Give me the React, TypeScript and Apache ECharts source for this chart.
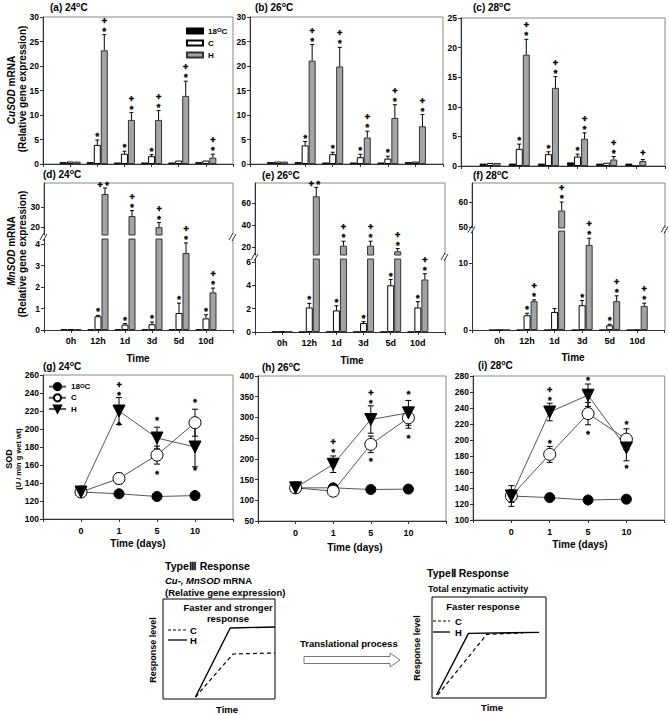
import React, { useEffect, useRef } from "react";
import * as echarts from "echarts";

const FONT = '"Liberation Sans", Arial, Helvetica, sans-serif';

// ---------------- data ----------------
const barCats = ["0h", "12h", "1d", "3d", "5d", "10d"];
const barAxisCats = ["", ...barCats, " "];

// (a) CuSOD 24 C
const a18 = [0.4, 0.4, 0.3, 0.3, 0.3, 0.4];
const aC = [0.5, 3.9, 2.1, 1.6, 0.7, 0.7];
const aCerr = [0, 1.0, 0.5, 0.3, 0, 0];
const aH = [0.5, 23.2, 9.0, 9.0, 13.9, 1.3];
const aHerr = [0, 3.2, 1.5, 1.9, 3.0, 0.7];
const aCsig = ["", "*", "*", "*", "", ""];
const aHsig = ["", "+*", "+*", "+*", "+*", "+*"];

// (b) CuSOD 26 C
const b18 = [0.4, 0.4, 0.3, 0.3, 0.3, 0.4];
const bC = [0.5, 3.8, 2.0, 1.4, 1.1, 0.5];
const bCerr = [0, 0.8, 0.4, 0.6, 0.5, 0];
const bH = [0.5, 21.1, 19.9, 5.4, 9.4, 7.7];
const bHerr = [0, 3.3, 3.9, 1.3, 2.7, 2.4];
const bCsig = ["", "*", "*", "*", "*", ""];
const bHsig = ["", "+*", "+*", "+*", "+*", "+*"];

// (c) CuSOD 28 C
const c18 = [0.4, 0.4, 0.4, 0.6, 0.4, 0.4];
const cC = [0.5, 2.9, 2.0, 1.6, 0.55, 0];
const cCerr = [0, 0.8, 0.4, 0.4, 0, 0];
const cH = [0.5, 18.8, 13.2, 4.6, 1.1, 0.85];
const cHerr = [0, 2.6, 1.9, 1.0, 0.5, 0.25];
const cCsig = ["", "*", "*", "*", "", ""];
const cHsig = ["", "+*", "+*", "+*", "+*", "+"];

// (d) MnSOD 24 C
const d18 = [0.03, 0.03, 0.03, 0.03, 0.03, 0.03];
const dC = [0.03, 0.64, 0.25, 0.27, 0.79, 0.54];
const dCerr = [0, 0.04, 0.05, 0.1, 0.46, 0.17];
const dH = [0.03, 36.5, 25.5, 19.9, 3.58, 1.75];
const dHerr = [0, 3.0, 2.7, 2.3, 0.47, 0.2];
const dCsig = ["", "*", "*", "*", "*", "*"];
const dHsig = ["", "+*h", "+*", "+*", "+*", "+*"];

// (e) MnSOD 26 C
const e18 = [0.03, 0.03, 0.03, 0.03, 0.03, 0.03];
const eC = [0.03, 2.1, 1.85, 0.77, 4.0, 2.1];
const eCerr = [0, 0.35, 0.4, 0.12, 0.5, 0.5];
const eH = [0.03, 66, 21.2, 21.2, 16, 4.5];
const eHerr = [0, 8, 4, 4, 2.5, 0.5];
const eCsig = ["", "*", "*", "*", "*", "*"];
const eHsig = ["", "+*h", "+*", "+*", "+*", "+*"];

// (f) MnSOD 28 C
const f18 = [0, 0, 0, 0, 0, 0];
const fC = [0, 2.2, 2.7, 3.7, 0.7, 0];
const fCerr = [0, 0.3, 0.5, 0.7, 0.15, 0];
const fH = [0, 4.3, 56.6, 12.7, 4.3, 3.6];
const fHerr = [0, 0.2, 3.4, 1.0, 0.8, 0.4];
const fCsig = ["", "*", "", "*", "*", ""];
const fHsig = ["", "+*", "+*", "+*", "+*", "+*"];

// SOD activity
const dayCats = ["0", "1", "5", "10"];
const dayAxisCats = ["", ...dayCats, " "];

const g18 = [130, 128, 125, 126];
const gC = [130, 145, 171, 207];
const gCerr = [3, 6, 10, 15];
const gH = [130, 220, 190, 180];
const gHerr = [3, 15, 12, 22];
// [day, value at which the star sits, code]
const gSig: [string, number, string][] = [
  ["1", 240, "+*"], ["1", 207, "*"],
  ["5", 212, "*"], ["5", 152, "*"], ["10", 232, "*"], ["10", 157, "*"],
];

const h18 = [130, 130, 126, 127];
const hC = [130, 122, 235, 299];
const hCerr = [8, 12, 20, 25];
const hH = [130, 187, 295, 311];
const hHerr = [12, 20, 33, 30];
const hSig: [string, number, string][] = [
  ["1", 221, "+*"], ["5", 340, "+*"],
  ["5", 201, "*"], ["10", 361, "*"], ["10", 255, "*"],
];

const i18 = [130, 128, 125, 126];
const iC = [130, 182, 233, 201];
const iCerr = [13, 10, 14, 13];
const iH = [130, 235, 256, 190];
const iHerr = [8, 11, 14, 16];
const iSig: [string, number, string][] = [
  ["1", 252, "+*"], ["1", 199, "*"],
  ["5", 277, "*"], ["5", 210, "*"], ["10", 222, "*"], ["10", 167, "*"],
];

// schematic curves (normalized time, response level)
const typeIII_H = [[0.29, 0.02], [0.6, 0.71], [1.0, 0.72]];
const typeIII_C = [[0.29, 0.02], [0.625, 0.45], [1.0, 0.46]];
const typeII_H = [[0.04, 0.03], [0.32, 0.64], [0.94, 0.65]];
const typeII_C = [[0.05, 0.03], [0.48, 0.63], [0.8, 0.645]];

// ---------------- option ----------------
const BW = 7;

function richFor(fs: number) {
  return {
    s: { fontSize: Math.round(fs * 0.7), fontWeight: "bold", fontFamily: FONT, verticalAlign: "top", lineHeight: fs * 0.8 },
    i: { fontSize: fs, fontWeight: "bold", fontStyle: "italic", fontFamily: FONT },
  };
}

function T(x: number, y: number, text: string, o: any = {}) {
  const fs = o.fs || 10;
  return {
    type: "text", x, y, rotation: o.rot || 0, silent: true, z: 50,
    style: {
      text, fill: "#000", fontFamily: FONT, fontWeight: o.fw || "bold", fontStyle: o.it ? "italic" : "normal",
      fontSize: fs, align: o.align || "left", verticalAlign: "middle", lineHeight: fs * 1.2, rich: richFor(fs),
    },
  };
}

const SIG_FS = 9;
const SIG_LH = 10;
const SIG_STYLE = {
  fill: "#000", stroke: "#000", lineWidth: 0.45, fontFamily: FONT, fontWeight: "bold",
  fontSize: SIG_FS, align: "center", verticalAlign: "middle",
};

// yTop: pixel y of the top of the bar/error bar; star centre lies 6px above it
function sigEls(x: number, yTop: number, code: string) {
  const starCy = yTop - 6;
  const starShift = SIG_FS * 0.23;
  if (code === "*") return [{ type: "text", x, y: starCy + starShift, style: { ...SIG_STYLE, text: "*" } }];
  if (code === "+*") return [{ type: "text", x, y: starCy + starShift - SIG_LH / 2, style: { ...SIG_STYLE, text: "+\n*", lineHeight: SIG_LH } }];
  if (code === "+") return [{ type: "text", x, y: yTop - 6, style: { ...SIG_STYLE, text: "+" } }];
  if (code === "+*h") return [{ type: "text", x: x - 2, y: yTop - 3, style: { ...SIG_STYLE, text: "+ *" } }];
  return [];
}

function buildOption() {
  const grid: any[] = [];
  const xAxis: any[] = [];
  const yAxis: any[] = [];
  const series: any[] = [];
  const graphic: any[] = [];

  const tickLabel = { fontFamily: FONT, fontWeight: "bold", fontSize: 8.5, color: "#000", margin: 4 };
  const axisLineStyle = { color: "#333", width: 1 };

  const barErr = (gi: number, vals: number[], errs: number[], sigs: string[], offset: number, lo: number, hi: number) => ({
    type: "custom", xAxisIndex: gi, yAxisIndex: gi, silent: true, z: 4,
    data: vals.map((v, i) => [barCats[i], v, errs[i], i]),
    renderItem: (_p: any, api: any) => {
      const i = api.value(3);
      const v = api.value(1);
      const e = api.value(2);
      if (!(v > lo && v <= hi)) return null;
      const c = api.value(0);
      const p0 = api.coord([c, v]);
      const p1 = api.coord([c, v + e]);
      const x = p0[0] + offset;
      const ch: any[] = [];
      if (e > 0) {
        ch.push({ type: "line", shape: { x1: x, y1: p0[1], x2: x, y2: p1[1] }, style: { stroke: "#000", lineWidth: 1 } });
        ch.push({ type: "line", shape: { x1: x - 2, y1: p1[1], x2: x + 2, y2: p1[1] }, style: { stroke: "#000", lineWidth: 1 } });
      }
      ch.push(...sigEls(x, Math.min(p0[1], p1[1]), sigs[i]));
      return { type: "group", children: ch };
    },
  });

  const addBarGrid = (o: any) => {
    const gi = grid.length;
    grid.push({ left: o.left, top: o.top, width: o.width, height: o.height, show: !!o.frame, borderColor: "#888", borderWidth: 1 });
    xAxis.push({
      gridIndex: gi, type: "category", data: barAxisCats, boundaryGap: false, show: o.xShow,
      axisLine: { show: true, lineStyle: axisLineStyle },
      axisTick: { show: true, length: 3, interval: 0, lineStyle: axisLineStyle },
      axisLabel: { show: !!o.xLabels, interval: 0, fontFamily: FONT, fontWeight: "bold", fontSize: 9, color: "#000", margin: 6 },
      splitLine: { show: false },
    });
    const ya: any = {
      gridIndex: gi, type: "value", min: o.min, max: o.max,
      axisLine: { show: true, lineStyle: axisLineStyle },
      axisTick: { show: true, length: 3, lineStyle: axisLineStyle },
      axisLabel: { ...tickLabel },
      splitLine: { show: false },
    };
    if (o.interval) ya.interval = o.interval;
    if (o.ticks) { ya.axisTick.customValues = o.ticks; ya.axisLabel.customValues = o.ticks; }
    yAxis.push(ya);
    const d = o.d;
    const mk = (name: string, vals: number[], style: any) => ({
      type: "bar", name, xAxisIndex: gi, yAxisIndex: gi, silent: true, clip: true,
      data: vals.map((v, i) => [barCats[i], v]), barWidth: BW, barGap: "0%", itemStyle: style,
    });
    series.push(mk("b18", d.v18, { color: "#000", borderColor: "#000", borderWidth: 0.8 }));
    series.push(mk("bC", d.vC, { color: "#fff", borderColor: "#000", borderWidth: 1 }));
    series.push(mk("bH", d.vH, { color: "#a3a3a3", borderColor: "#333", borderWidth: 1 }));
    const lo = o.lo ?? -Infinity, hi = o.hi ?? Infinity;
    series.push(barErr(gi, d.vC, d.eC, d.sC, 0, lo, hi));
    series.push(barErr(gi, d.vH, d.eH, d.sH, BW, lo, hi));
  };

  const setA = { v18: a18, vC: aC, eC: aCerr, vH: aH, eH: aHerr, sC: aCsig, sH: aHsig };
  const setB = { v18: b18, vC: bC, eC: bCerr, vH: bH, eH: bHerr, sC: bCsig, sH: bHsig };
  const setC = { v18: c18, vC: cC, eC: cCerr, vH: cH, eH: cHerr, sC: cCsig, sH: cHsig };
  const setD = { v18: d18, vC: dC, eC: dCerr, vH: dH, eH: dHerr, sC: dCsig, sH: dHsig };
  const setE = { v18: e18, vC: eC, eC: eCerr, vH: eH, eH: eHerr, sC: eCsig, sH: eHsig };
  const setF = { v18: f18, vC: fC, eC: fCerr, vH: fH, eH: fHerr, sC: fCsig, sH: fHsig };

  // Row 1
  addBarGrid({ left: 43, top: 17, width: 190, height: 147, min: 0, max: 30, interval: 5, frame: true, xShow: true, d: setA });
  addBarGrid({ left: 250, top: 17, width: 193, height: 147, min: 0, max: 30, interval: 5, frame: true, xShow: true, d: setB });
  addBarGrid({ left: 461, top: 18, width: 204, height: 148, min: 0, max: 25, interval: 5, frame: true, xShow: true, d: setC });

  // Row 2 (broken axes): lower + upper grids
  const dLowMax = 91 / 21.5;
  addBarGrid({ left: 44, top: 239, width: 189, height: 91, min: 0, max: dLowMax, ticks: [0, 1, 2, 3, 4], xShow: true, xLabels: true, d: setD, hi: dLowMax });
  addBarGrid({ left: 44, top: 183, width: 189, height: 52, min: 16, max: 42, ticks: [20, 30], xShow: false, d: setD, lo: dLowMax });
  const eLowMax = 73 / 11.67;
  addBarGrid({ left: 255, top: 259, width: 190, height: 73, min: 0, max: eLowMax, ticks: [0, 2, 4, 6], xShow: true, xLabels: true, d: setE, hi: eLowMax });
  addBarGrid({ left: 255, top: 183, width: 190, height: 72, min: 12.7, max: 78, ticks: [20, 40, 60], xShow: false, d: setE, lo: eLowMax });
  const fLowMax = 99 / 6.7;
  addBarGrid({ left: 472, top: 231, width: 193, height: 99, min: 0, max: fLowMax, ticks: [0, 10], xShow: true, xLabels: true, d: setF, hi: fLowMax });
  addBarGrid({ left: 472, top: 183, width: 193, height: 45, min: 49.6, max: 67.6, ticks: [50, 60], xShow: false, d: setF, lo: fLowMax });

  // Row 3 line panels
  const addLineGrid = (o: any) => {
    const gi = grid.length;
    grid.push({ left: o.left, top: o.top, width: o.width, height: o.height, show: true, borderColor: "#888", borderWidth: 1 });
    xAxis.push({
      gridIndex: gi, type: "category", data: dayAxisCats, boundaryGap: false,
      axisLine: { show: true, lineStyle: axisLineStyle },
      axisTick: { show: true, length: 3, interval: 0, lineStyle: axisLineStyle },
      axisLabel: { interval: 0, fontFamily: FONT, fontWeight: "bold", fontSize: 9, color: "#000", margin: 7 },
      splitLine: { show: false },
    });
    yAxis.push({
      gridIndex: gi, type: "value", min: o.min, max: o.max, interval: o.interval,
      axisLine: { show: true, lineStyle: axisLineStyle },
      axisTick: { show: true, length: 3, lineStyle: axisLineStyle },
      axisLabel: { ...tickLabel },
      splitLine: { show: false },
    });
    const err = (vals: number[], errs: number[]) => ({
      type: "custom", xAxisIndex: gi, yAxisIndex: gi, silent: true, z: 1,
      data: vals.map((v, i) => [dayCats[i], v, errs[i]]),
      renderItem: (_p: any, api: any) => {
        const c = api.value(0), v = api.value(1), e = api.value(2);
        if (!(e > 0)) return null;
        const pu = api.coord([c, v + e]);
        const pl = api.coord([c, v - e]);
        const x = pu[0];
        return {
          type: "group", children: [
            { type: "line", shape: { x1: x, y1: pl[1], x2: x, y2: pu[1] }, style: { stroke: "#000", lineWidth: 1 } },
            { type: "line", shape: { x1: x - 3, y1: pu[1], x2: x + 3, y2: pu[1] }, style: { stroke: "#000", lineWidth: 1 } },
            { type: "line", shape: { x1: x - 3, y1: pl[1], x2: x + 3, y2: pl[1] }, style: { stroke: "#000", lineWidth: 1 } },
          ],
        };
      },
    });
    series.push(err(o.vC, o.eC));
    series.push(err(o.vH, o.eH));
    const ln = (name: string, vals: number[], sym: any, style: any, size: number) => ({
      type: "line", name, xAxisIndex: gi, yAxisIndex: gi, silent: true,
      data: vals.map((v, i) => [dayCats[i], v]), symbol: sym.symbol, symbolRotate: sym.rot || 0, symbolSize: size,
      showAllSymbol: true, itemStyle: style, lineStyle: { color: "#555", width: 1 }, z: 3,
    });
    series.push(ln("l18", o.v18, { symbol: "circle" }, { color: "#000", borderColor: "#000", borderWidth: 1 }, 10));
    series.push(ln("lC", o.vC, { symbol: "circle" }, { color: "#fff", borderColor: "#000", borderWidth: 1 }, 12));
    series.push(ln("lH", o.vH, { symbol: "triangle", rot: 180 }, { color: "#000", borderColor: "#000", borderWidth: 1 }, 12));
    series.push({
      type: "custom", xAxisIndex: gi, yAxisIndex: gi, silent: true, z: 6,
      data: o.sig.map((s: any, k: number) => [s[0], s[1], k]),
      renderItem: (_p: any, api: any) => {
        const p = api.coord([api.value(0), api.value(1)]);
        const code = o.sig[api.value(2)][2];
        return { type: "group", children: sigEls(p[0], p[1] + 6, code) };
      },
    });
  };

  addLineGrid({ left: 43, top: 375, width: 190, height: 144, min: 100, max: 260, interval: 20, v18: g18, vC: gC, eC: gCerr, vH: gH, eH: gHerr, sig: gSig });
  addLineGrid({ left: 258, top: 376, width: 188, height: 145, min: 50, max: 400, interval: 50, v18: h18, vC: hC, eC: hCerr, vH: hH, eH: hHerr, sig: hSig });
  addLineGrid({ left: 473, top: 376, width: 192, height: 144, min: 100, max: 280, interval: 20, v18: i18, vC: iC, eC: iCerr, vH: iH, eH: iHerr, sig: iSig });

  // Schematic grids
  const addSchem = (o: any) => {
    const gi = grid.length;
    grid.push({ left: o.left, top: o.top, width: o.width, height: o.height, show: true, borderColor: "#000", borderWidth: 1 });
    xAxis.push({ gridIndex: gi, type: "value", min: 0, max: 1, show: false });
    yAxis.push({ gridIndex: gi, type: "value", min: 0, max: 1, show: false });
    series.push({ type: "line", xAxisIndex: gi, yAxisIndex: gi, silent: true, symbol: "none", data: o.H, lineStyle: { color: "#000", width: 1.4 } });
    series.push({ type: "line", xAxisIndex: gi, yAxisIndex: gi, silent: true, symbol: "none", data: o.C, lineStyle: { color: "#000", width: 1.2, type: [4, 3] } });
  };
  addSchem({ left: 163, top: 599, width: 112, height: 100, H: typeIII_H, C: typeIII_C });
  addSchem({ left: 432, top: 597, width: 114, height: 101, H: typeII_H, C: typeII_C });

  // ---------- graphics ----------
  const gray = { stroke: "#888", lineWidth: 1, fill: null };
  const slash = (x: number, y: number) => [
    { type: "line", shape: { x1: x - 4, y1: y + 3, x2: x, y2: y - 4 }, style: { stroke: "#333", lineWidth: 1 } },
    { type: "line", shape: { x1: x - 1, y1: y + 4, x2: x + 3, y2: y - 3 }, style: { stroke: "#333", lineWidth: 1 } },
  ];
  const brokenFrame = (L: number, R: number, Tp: number, B: number, gTop: number, gBot: number) => [
    { type: "polyline", silent: true, shape: { points: [[L, gTop], [L, Tp], [R, Tp], [R, gTop]] }, style: gray },
    { type: "polyline", silent: true, shape: { points: [[R, gBot], [R, B]] }, style: gray },
    ...slash(L, (gTop + gBot) / 2),
    ...slash(R, (gTop + gBot) / 2),
  ];
  graphic.push(...brokenFrame(44, 233, 183, 330, 235, 239));
  graphic.push(...brokenFrame(255, 445, 183, 332, 255, 259));
  graphic.push(...brokenFrame(472, 665, 183, 330, 228, 231));

  // panel titles
  graphic.push(T(50, 7, "(a) 24{s|o}C"));
  graphic.push(T(255, 7, "(b) 26{s|o}C"));
  graphic.push(T(473, 7, "(c) 28{s|o}C"));
  graphic.push(T(43, 174, "(d) 24{s|o}C"));
  graphic.push(T(262, 175, "(e) 26{s|o}C"));
  graphic.push(T(473, 175, "(f) 28{s|o}C"));
  graphic.push(T(43, 366, "(g) 24{s|o}C"));
  graphic.push(T(262, 367, "(h) 26{s|o}C"));
  graphic.push(T(478, 365, "(i) 28{s|o}C"));

  // y titles
  const R90 = Math.PI / 2;
  graphic.push(T(11, 90, "{i|CuSOD} mRNA", { rot: R90, align: "center", fs: 10 }));
  graphic.push(T(22, 89, "(Relative gene expression)", { rot: R90, align: "center", fs: 10 }));
  graphic.push(T(11, 251, "{i|MnSOD} mRNA", { rot: R90, align: "center", fs: 10 }));
  graphic.push(T(22, 254, "(Relative gene expression)", { rot: R90, align: "center", fs: 10 }));
  graphic.push(T(9, 459, "SOD", { rot: R90, align: "center", fs: 9 }));
  graphic.push(T(18, 459, "(U / min g wet wt)", { rot: R90, align: "center", fs: 7.5 }));

  // x titles
  graphic.push(T(138, 358, "Time", { align: "center" }));
  graphic.push(T(352, 360, "Time", { align: "center" }));
  graphic.push(T(573, 357, "Time", { align: "center" }));
  graphic.push(T(138, 543, "Time (days)", { align: "center" }));
  graphic.push(T(355, 547, "Time (days)", { align: "center" }));
  graphic.push(T(580, 544, "Time (days)", { align: "center" }));

  // schematic texts
  graphic.push(T(165, 566, "Type\u2162 Response", { fs: 10.5 }));
  graphic.push(T(165, 580, "{i|Cu-, MnSOD} mRNA", { fs: 9.5 }));
  graphic.push(T(165, 592, "(Relative gene expression)", { fs: 9.5 }));
  graphic.push(T(228, 607, "Faster and stronger", { fs: 9.5, align: "center" }));
  graphic.push(T(228, 618, "response", { fs: 9.5, align: "center" }));
  graphic.push({ type: "line", shape: { x1: 168, y1: 630, x2: 187, y2: 630 }, style: { stroke: "#000", lineWidth: 1, lineDash: [3, 2] } });
  graphic.push({ type: "line", shape: { x1: 168, y1: 640, x2: 187, y2: 640 }, style: { stroke: "#000", lineWidth: 1.3 } });
  graphic.push(T(190, 630, "C", { fs: 9.5 }));
  graphic.push(T(190, 640, "H", { fs: 9.5 }));
  graphic.push(T(153, 650, "Response level", { rot: R90, align: "center", fs: 9 }));
  graphic.push(T(227, 709, "Time", { fs: 9.5, align: "center" }));
  graphic.push(T(300, 643, "Translational process", { fs: 9.5 }));
  graphic.push({
    type: "polygon", silent: true,
    shape: { points: [[304, 656.5], [390, 656.5], [390, 653], [400, 660], [390, 667], [390, 663.5], [304, 663.5]] },
    style: { fill: "#fff", stroke: "#777", lineWidth: 1 },
  });
  graphic.push(T(427, 573, "Type\u2161 Response", { fs: 10.5 }));
  graphic.push(T(428, 589, "Total enzymatic activity", { fs: 9 }));
  graphic.push(T(483, 606, "Faster response", { fs: 9.5, align: "center" }));
  graphic.push({ type: "line", shape: { x1: 433, y1: 621, x2: 450, y2: 621 }, style: { stroke: "#000", lineWidth: 1, lineDash: [3, 2] } });
  graphic.push({ type: "line", shape: { x1: 433, y1: 632, x2: 450, y2: 632 }, style: { stroke: "#000", lineWidth: 1.3 } });
  graphic.push(T(455, 621, "C", { fs: 9.5 }));
  graphic.push(T(455, 632, "H", { fs: 9.5 }));
  graphic.push(T(417, 648, "Response level", { rot: R90, align: "center", fs: 9 }));
  graphic.push(T(492, 707, "Time", { fs: 9.5, align: "center" }));

  const legRich = {
    s: { fontSize: 6, fontWeight: "bold", fontFamily: FONT, verticalAlign: "top", lineHeight: 6, color: "#000" },
  };
  const legFmt = (n: string) => (n === "b18" || n === "l18" ? "18{s|O}C" : n.slice(1));

  return {
    animation: false,
    backgroundColor: "#fff",
    textStyle: { fontFamily: FONT },
    grid, xAxis, yAxis, series,
    legend: [
      {
        data: ["b18", "bC", "bH"], left: 186, top: 27, orient: "vertical", icon: "rect",
        itemWidth: 16, itemHeight: 5, itemGap: 4, selectedMode: false, formatter: legFmt, padding: 0,
        textStyle: { fontFamily: FONT, fontWeight: "bold", fontSize: 8, color: "#000", rich: legRich },
      },
      {
        data: ["l18", "lC", "lH"], left: 48, top: 382, orient: "vertical",
        itemWidth: 17, itemHeight: 9, itemGap: 2, selectedMode: false, formatter: legFmt, padding: 0,
        textStyle: { fontFamily: FONT, fontWeight: "bold", fontSize: 8, color: "#000", rich: legRich },
      },
    ],
    graphic: { elements: graphic },
  };
}

export default function App() {
  const ref = useRef<HTMLDivElement>(null);
  useEffect(() => {
    if (!ref.current) return;
    const chart = echarts.init(ref.current, null, { renderer: "svg" });
    chart.setOption(buildOption() as any);
    return () => chart.dispose();
  }, []);
  return (
    <div
      ref={ref}
      style={{ position: "absolute", left: 0, top: 0, width: 669, height: 715, background: "#fff" }}
    />
  );
}
